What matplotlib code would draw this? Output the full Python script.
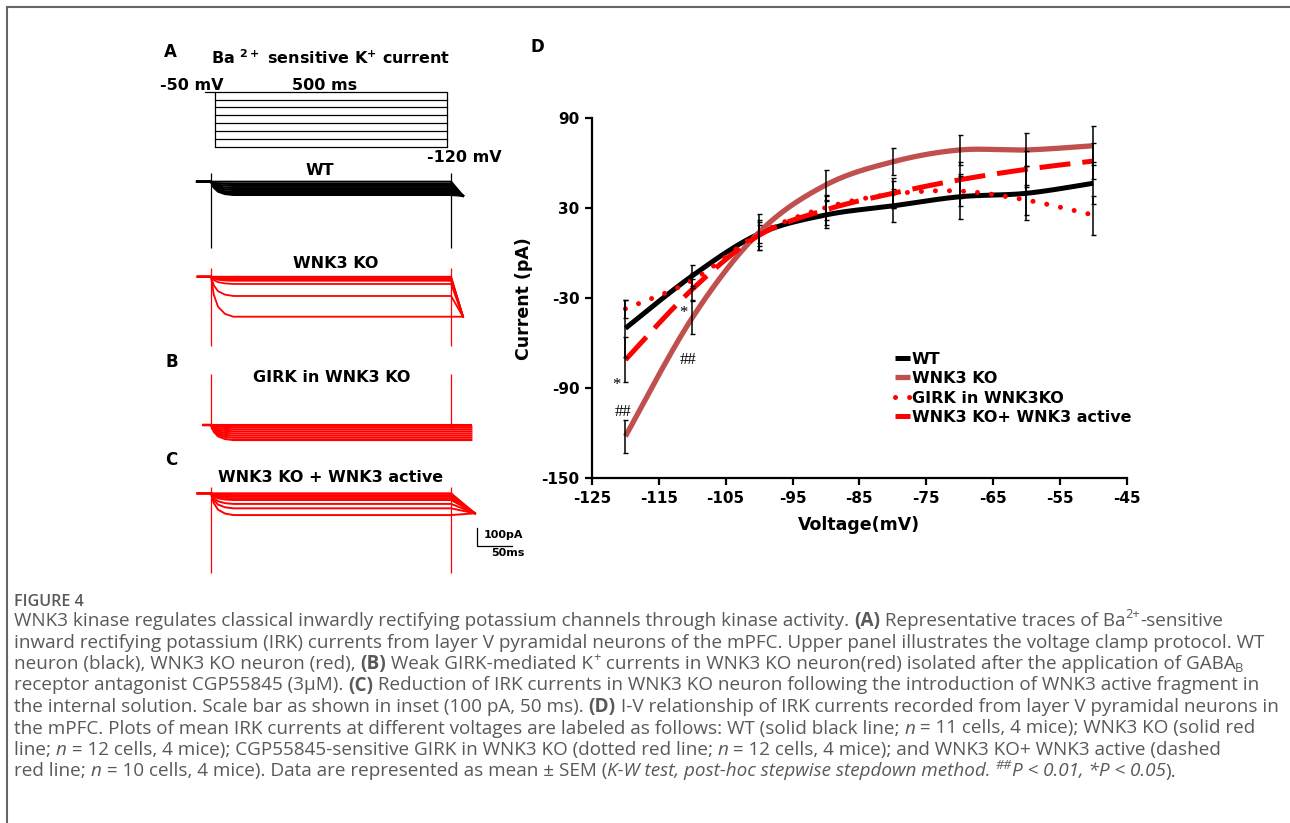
import numpy as np
import matplotlib
matplotlib.use("Agg")
import matplotlib.pyplot as plt
from matplotlib.lines import Line2D
from matplotlib.font_manager import FontProperties

plt.rcParams["axes.unicode_minus"] = False

# ---------------- Panel D data (I-V relationship) ----------------
voltage = [-120, -110, -100, -90, -80, -70, -60, -50]
wt_mean = [-50, -15, 13, 25.6, 31.6, 37.7, 40, 46.7]
wt_sem = [19, 7, 8, 9, 11, 15, 18, 14]
ko_mean = [-122, -43, 14, 45.6, 61, 68.9, 68.9, 71.7]
ko_sem = [11, 11, 12, 10, 9, 10, 11, 13]
girk_mean = [-37, -18, 13, 30.5, 39.5, 41.5, 35.5, 25.5]
girk_sem = [6, 5, 6, 8, 9, 10, 10, 13]
act_mean = [-71, -24, 12, 29, 40, 49, 56, 61.5]
act_sem = [15, 7, 10, 10, 10, 12, 12, 12]
series_labels = ["WT", "WNK3 KO", "GIRK in WNK3KO", "WNK3 KO+ WNK3 active"]
x_ticks = [-125, -115, -105, -95, -85, -75, -65, -55, -45]
y_ticks = [-150, -90, -30, 30, 90]
sig_text = ["*", "##", "*", "##"]
sig_v = [-121.4, -120.4, -111.4, -110.6]
sig_i = [-88, -106, -40, -71]

# ---------------- Panels A-C data (representative traces) ----------------
step_voltages = [-50, -60, -70, -80, -90, -100, -110, -120]   # mV
protocol_hold_start, protocol_on, protocol_off = -9, 6, 337     # ms
trace_off = 343                                                 # ms
onset_t = [0, 4, 10, 20, 32]                                    # ms
onset_frac = [0, 0.45, 0.75, 0.93, 1.0]
wt_levels = [0, -13, -24, -36, -47, -58, -66, -75]              # pA
ko_levels = [0, -5, -10, -16, -23, -41, -109, -226]
girk_levels = [0, -12, -24, -36, -48, -60, -72, -85]
act_levels = [0, -10, -19, -28, -38, -60, -85, -123]

W, H = 1290, 823
fig = plt.figure(figsize=(W / 100, H / 100), dpi=100)


def fx(px):
    return px / W


def fy(py):
    return 1 - py / H


def px_axes(l, t, r, b):
    return fig.add_axes([fx(l), fy(b), (r - l) / W, (b - t) / H])


BOLD = dict(family="DejaVu Sans", fontweight="bold")

# ---------------- frame ----------------
fig.add_artist(Line2D([fx(7), 1], [fy(7), fy(7)], transform=fig.transFigure, color="#666666", lw=1.5))
fig.add_artist(Line2D([fx(7), fx(7)], [fy(7), 0], transform=fig.transFigure, color="#666666", lw=1.5))

# ---------------- Panel D ----------------
axD = px_axes(592, 118.3, 1126.7, 478.3)
axD.set_xlim(-125, -45)
axD.set_ylim(-150, 90)


def smooth(xs, ys, n=30):
    pts = np.column_stack([xs, ys]).astype(float)
    P = np.vstack([pts[0], pts, pts[-1]])
    out = []
    for i in range(1, len(P) - 2):
        p0, p1, p2, p3 = P[i - 1], P[i], P[i + 1], P[i + 2]
        c1 = p1 + (p2 - p0) / 6
        c2 = p2 - (p3 - p1) / 6
        t = np.linspace(0, 1, n)[:, None]
        seg = (1 - t) ** 3 * p1 + 3 * (1 - t) ** 2 * t * c1 + 3 * (1 - t) * t ** 2 * c2 + t ** 3 * p2
        out.append(seg if i == 1 else seg[1:])
    s = np.vstack(out)
    return s[:, 0], s[:, 1]


styles = [
    dict(color="black", lw=3.6, solid_capstyle="butt"),
    dict(color="#C0504D", lw=3.8, solid_capstyle="butt"),
    dict(color="#FF0000", lw=3.6, linestyle=(0, (0.01, 2.8)), dash_capstyle="round"),
    dict(color="#FF0000", lw=3.6, linestyle=(0, (6.2, 2.4)), dash_capstyle="butt"),
]
means = [wt_mean, ko_mean, girk_mean, act_mean]
sems = [wt_sem, ko_sem, girk_sem, act_sem]
for m, lab, st in zip(means, series_labels, styles):
    sx, sy = smooth(voltage, m)
    axD.plot(sx, sy, label=lab, zorder=2, **st)
for m, e in zip(means, sems):
    axD.errorbar(voltage, m, yerr=e, fmt="none", ecolor="black", elinewidth=1.1,
                 capsize=1.8, capthick=1.0, zorder=4)
for s, xv, yv in zip(sig_text, sig_v, sig_i):
    axD.text(xv, yv, s, family="Liberation Serif", fontsize=12, ha="center", va="center", zorder=5)

axD.set_xticks(x_ticks)
axD.set_yticks(y_ticks)
for sp in ["top", "right"]:
    axD.spines[sp].set_visible(False)
for sp in ["left", "bottom"]:
    axD.spines[sp].set_linewidth(1.6)
axD.tick_params(direction="out", length=5, width=1.6, labelsize=11, pad=4)
for lbl in axD.get_xticklabels() + axD.get_yticklabels():
    lbl.set_fontweight("bold")
    lbl.set_family("DejaVu Sans")
axD.set_xlabel("Voltage(mV)", fontsize=12.5, labelpad=7, **BOLD)
axD.set_ylabel("Current (pA)", fontsize=12.5, labelpad=6, **BOLD)
leg = axD.legend(loc="upper left", bbox_to_anchor=(0.567, 0.352), frameon=False,
                 handlelength=0.9, handletextpad=0.15, labelspacing=0.28,
                 borderaxespad=0, borderpad=0,
                 prop=FontProperties(family="DejaVu Sans", weight="bold", size=11.5))
fig.text(fx(537), fy(47), "D", fontsize=12, ha="center", va="center", **BOLD)

# ---------------- Panels A-C ----------------
PX_MS = 0.7      # px per ms (scale bar 50 ms)
PX_PA = 0.177    # px per pA (scale bar 100 pA)
T0_PX = 211      # pixel of step onset
LEFT_PX, RIGHT_PX = 150, 520
t_lo = (LEFT_PX - T0_PX) / PX_MS
t_hi = (RIGHT_PX - T0_PX) / PX_MS


def trace_axes(y0, top, bot, per_unit):
    ax = px_axes(LEFT_PX, top, RIGHT_PX, bot)
    ax.set_xlim(t_lo, t_hi)
    ax.set_ylim(-(bot - y0) / per_unit, (y0 - top) / per_unit)
    ax.axis("off")
    return ax


# protocol (mV axes, -50 mV at baseline)
axP = px_axes(LEFT_PX, 80, RIGHT_PX, 160)
axP.set_xlim(t_lo, t_hi)
mv_px = 55 / 70.0
axP.set_ylim(-50 - (160 - 91.7) / mv_px, -50 + (91.7 - 80) / mv_px)
axP.axis("off")
axP.plot([protocol_hold_start, protocol_off], [step_voltages[0], step_voltages[0]], color="black", lw=0.9)
for v in step_voltages[1:]:
    axP.plot([protocol_on, protocol_off], [v, v], color="black", lw=0.9)
axP.vlines([protocol_on, protocol_off], min(step_voltages), max(step_voltages), color="black", lw=0.9)


def draw_traces(ax, levels, t_start, t_end, tail_end, color, spike_up, spike_down, lw):
    for lev in levels:
        ts = [t_start] + onset_t + [trace_off, t_end]
        end_v = lev if tail_end is None else tail_end
        vs = [0] + [lev * f for f in onset_frac] + [lev, end_v]
        ax.plot(ts, vs, color=color, lw=lw, solid_joinstyle="round")
    ax.vlines([0, trace_off], spike_down, spike_up, color=color, lw=0.9)


axWT = trace_axes(181.7, 165, 255, PX_PA)
draw_traces(axWT, wt_levels, -20, 360, -80, "black", 49, -375, 1.5)
axKO = trace_axes(276.7, 262, 352, PX_PA)
draw_traces(axKO, ko_levels, -19, 360, -226, "#FF0000", 49, -392, 1.3)
axG = trace_axes(425, 365, 445, PX_PA)
draw_traces(axG, girk_levels, -11, 372, None, "#FF0000", 290, -20, 1.5)
axC = trace_axes(493.3, 480, 580, PX_PA)
draw_traces(axC, act_levels, -19, 377, -113, "#FF0000", 37, -450, 1.4)
# scale bar: 100 pA, 50 ms
sb_t = (476.7 - T0_PX) / PX_MS
sb_v = (493.3 - 546) / PX_PA
axC.plot([sb_t, sb_t, sb_t + 50], [sb_v + 100, sb_v, sb_v], color="black", lw=0.9)
fig.text(fx(484), fy(538.5), "100pA", fontsize=8, ha="left", va="baseline", **BOLD)
fig.text(fx(491), fy(555.5), "50ms", fontsize=8, ha="left", va="baseline", **BOLD)

TXT = 11.5
fig.text(fx(170.5), fy(57), "A", fontsize=12, ha="center", va="baseline", **BOLD)
fig.text(fx(331), fy(64.3), r"Ba $^{\mathbf{2+}}$ sensitive K$^{\mathbf{+}}$ current", fontsize=TXT,
         ha="center", va="baseline", **BOLD)
fig.text(fx(160.5), fy(90), "-50 mV", fontsize=TXT, ha="left", va="baseline", **BOLD)
fig.text(fx(325), fy(90), "500 ms", fontsize=TXT, ha="center", va="baseline", **BOLD)
fig.text(fx(427), fy(161.7), "-120 mV", fontsize=TXT, ha="left", va="baseline", **BOLD)
fig.text(fx(320), fy(175), "WT", fontsize=TXT, ha="center", va="baseline", **BOLD)
fig.text(fx(336), fy(268), "WNK3 KO", fontsize=TXT, ha="center", va="baseline", **BOLD)
fig.text(fx(171.5), fy(366.7), "B", fontsize=12, ha="center", va="baseline", **BOLD)
fig.text(fx(331.5), fy(381.7), "GIRK in WNK3 KO", fontsize=TXT, ha="center", va="baseline", **BOLD)
fig.text(fx(171.5), fy(465), "C", fontsize=12, ha="center", va="baseline", **BOLD)
fig.text(fx(331), fy(481.7), "WNK3 KO + WNK3 active", fontsize=TXT, ha="center", va="baseline", **BOLD)

# ---------------- Caption ----------------
cap_lines = [
    [("WNK3 kinase regulates classical inwardly rectifying potassium channels through kinase activity. ", "r"),
     ("(A)", "b"), (" Representative traces of Ba", "r"), ("2+", "sup"), ("-sensitive", "r")],
    [("inward rectifying potassium (IRK) currents from layer V pyramidal neurons of the mPFC. Upper panel illustrates the voltage clamp protocol. WT", "r")],
    [("neuron (black), WNK3 KO neuron (red), ", "r"), ("(B)", "b"), (" Weak GIRK-mediated K", "r"), ("+", "sup"),
     (" currents in WNK3 KO neuron(red) isolated after the application of GABA", "r"), ("B", "sub")],
    [("receptor antagonist CGP55845 (3\u03bcM). ", "r"), ("(C)", "b"),
     (" Reduction of IRK currents in WNK3 KO neuron following the introduction of WNK3 active fragment in", "r")],
    [("the internal solution. Scale bar as shown in inset (100 pA, 50 ms). ", "r"), ("(D)", "b"),
     (" I-V relationship of IRK currents recorded from layer V pyramidal neurons in", "r")],
    [("the mPFC. Plots of mean IRK currents at different voltages are labeled as follows: WT (solid black line; ", "r"),
     ("n", "i"), (" = 11 cells, 4 mice); WNK3 KO (solid red", "r")],
    [("line; ", "r"), ("n", "i"), (" = 12 cells, 4 mice); CGP55845-sensitive GIRK in WNK3 KO (dotted red line; ", "r"),
     ("n", "i"), (" = 12 cells, 4 mice); and WNK3 KO+ WNK3 active (dashed", "r")],
    [("red line; ", "r"), ("n", "i"), (" = 10 cells, 4 mice). Data are represented as mean \u00b1 SEM (", "r"),
     ("K-W test, post-hoc stepwise stepdown method. ", "i"), ("##", "isup"), ("P < 0.01, *P < 0.05", "i"), (").", "r")],
]
cap_baselines = [626, 647.5, 669, 690.5, 712, 733.5, 755, 776.5]
cap_right = [1248, 1250, 1238, 1262, 1257, 1258, 1246, 1237]
CAP_X = 14
CAP_COLOR = "#595959"
CAP_FAM = ["Open Sans", "DejaVu Sans"]

renderer = fig.canvas.get_renderer()


def seg_prop(style, size):
    weight = "bold" if style == "b" else "normal"
    fstyle = "italic" if style in ("i", "isup") else "normal"
    s = size * 0.68 if style in ("sup", "sub", "isup") else size
    return FontProperties(family=CAP_FAM, weight=weight, style=fstyle, size=s)


def text_w(s, prop):
    w1, _, _ = renderer.get_text_width_height_descent("|" + s + "|", prop, ismath=False)
    w0, _, _ = renderer.get_text_width_height_descent("||", prop, ismath=False)
    return w1 - w0


def line_width(segs, size):
    return sum(text_w(t, seg_prop(st, size)) for t, st in segs)


base = 10.0
ratios = [(r - CAP_X) / line_width(segs, base) for segs, r in zip(cap_lines, cap_right)]
cap_size = base * float(np.median(ratios))

for segs, yb in zip(cap_lines, cap_baselines):
    x = CAP_X
    for t, st in segs:
        prop = seg_prop(st, cap_size)
        dy = 0.0
        if st in ("sup", "isup"):
            dy = -cap_size * 0.42 * 100 / 72
        elif st == "sub":
            dy = cap_size * 0.18 * 100 / 72
        fig.text(fx(x), fy(yb + dy), t, fontproperties=prop, color=CAP_COLOR, ha="left", va="baseline")
        x += text_w(t, prop)

fig.text(fx(CAP_X), fy(606), "FIGURE 4", family=CAP_FAM, fontsize=cap_size * 0.85, fontweight="semibold",
         color=CAP_COLOR, ha="left", va="baseline")

fig.savefig("out.png", dpi=100)
